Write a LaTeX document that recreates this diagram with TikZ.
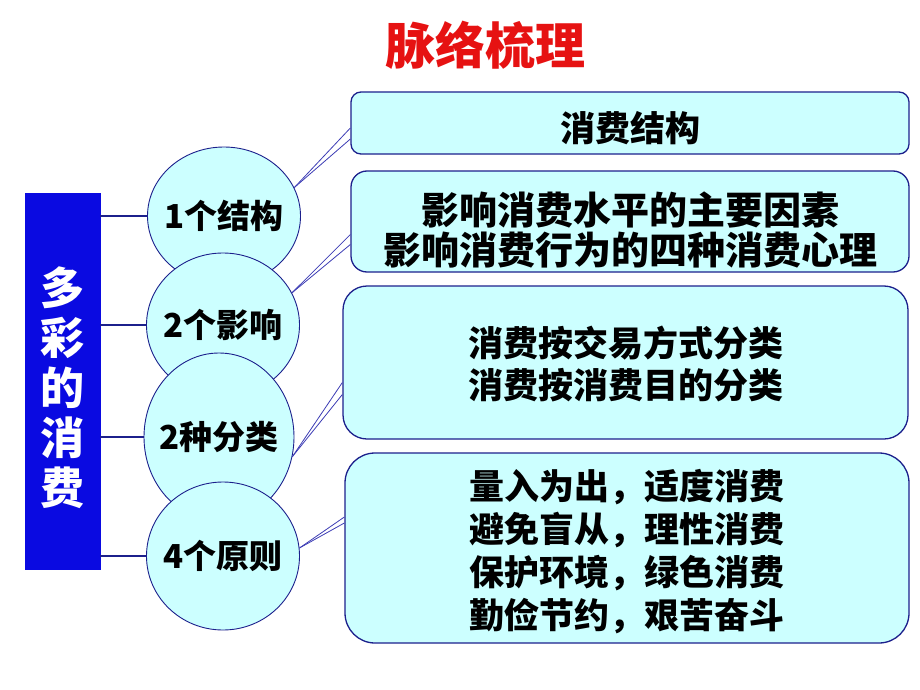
\documentclass[tikz,border=0pt]{standalone}
\usepackage{fontspec}
\setmainfont{Noto Sans CJK SC}
\usetikzlibrary{calc}
\usetikzlibrary{positioning}
\usetikzlibrary{shapes.geometric}
\definecolor{cyanfill}{RGB}{204,255,255}
\definecolor{navyline}{RGB}{28,32,140}
\definecolor{calloutblue}{RGB}{60,60,180}
\definecolor{titlered}{RGB}{230,18,18}
\definecolor{sideblue}{RGB}{10,10,225}
\tikzstyle{titlenode} = [text=titlered, font=\fontsize{50}{50}\selectfont\bfseries]
\tikzstyle{sidenode} = [draw=sideblue, fill=sideblue, text=white, align=center, minimum width=75pt, minimum height=376pt, font=\fontsize{44}{50}\selectfont\bfseries]
\tikzstyle{pointnode} = [draw=navyline, ellipse, fill=cyanfill, line width=0.9pt, inner sep=0pt, minimum width=153pt, font=\fontsize{33}{33}\selectfont\bfseries]
\tikzstyle{contentnode} = [draw=navyline, fill=cyanfill, line width=1.3pt, align=center, font=\fontsize{35}{42}\selectfont\bfseries]
\tikzstyle{branch} = [draw=navyline, line width=2.2pt]
\tikzstyle{callout} = [draw=calloutblue, line width=0.8pt]
\newcommand{\ptext}[1]{\makebox[60pt]{#1}}
% taller first line pushes the text block down a little
\newcommand{\topgap}[1]{\rule{0pt}{#1}}

\begin{document}
\begin{tikzpicture}[x=1pt, y=-1pt]
  \useasboundingbox (0,0) rectangle (920,690);

  \node[titlenode] (title) at (485,45) {脉络梳理};

  \node[sidenode] (side) at (62.5,381) {\topgap{52pt}多\\彩\\的\\消\\费};

  \node[contentnode, minimum width=558pt, minimum height=62pt, rounded corners=10pt] (s1) at (630,123) {\topgap{40pt}消费结构};
  \node[contentnode, minimum width=558pt, minimum height=101pt, rounded corners=16pt, font=\fontsize{38}{40}\selectfont\bfseries] (s2) at (630,221.5) {\topgap{50pt}影响消费水平的主要因素\\影响消费行为的四种消费心理};
  \node[contentnode, minimum width=565pt, minimum height=153pt, rounded corners=24pt] (s3) at (625.5,362.5) {\topgap{34pt}消费按交易方式分类\\消费按消费目的分类};
  \node[contentnode, minimum width=564pt, minimum height=190pt, rounded corners=30pt, font=\fontsize{35}{43}\selectfont\bfseries] (s4) at (627,548) {\topgap{38pt}量入为出，适度消费\\避免盲从，理性消费\\保护环境，绿色消费\\勤俭节约，艰苦奋斗};

  \node[pointnode, minimum height=138pt] (p1) at (224,216) {\ptext{1个结构}};
  \node[pointnode, minimum height=144pt] (p2) at (223,325) {\ptext{2个影响}};
  \node[pointnode, minimum height=168pt, minimum width=150pt] (p3) at (219,437) {\ptext{2种分类}};
  \node[pointnode, minimum height=148pt] (p4) at (223,556) {\ptext{4个原则}};

  \draw[branch] (side.east |- p1.west) -- (p1.west);
  \draw[branch] (side.east |- p2.west) -- (p2.west);
  \draw[branch] (side.east |- p3.west) -- (p3.west);
  \draw[branch] (side.east |- p4.west) -- (p4.west);

  \draw[callout] (p1.22) -- ([yshift=-5pt]s1.west);
  \draw[callout] (p1.22) -- ([yshift=-16pt]s1.west);
  \draw[callout] (p2.25) -- ([yshift=-13pt]s2.west);
  \draw[callout] (p2.25) -- ([yshift=-23pt]s2.west);
  \draw[callout] (p3.-15) -- ([yshift=-20pt]s3.west);
  \draw[callout] (p3.-15) -- ([yshift=-32pt]s3.west);
  \draw[callout] (p4.6) -- ([yshift=31pt]s4.west);
  \draw[callout] (p4.6) -- ([yshift=25pt]s4.west);
\end{tikzpicture}
\end{document}
